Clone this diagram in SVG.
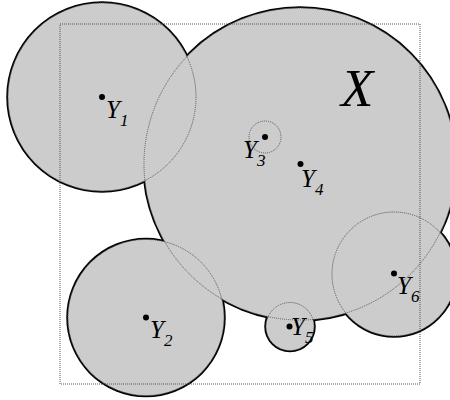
<svg xmlns="http://www.w3.org/2000/svg" width="450" height="400" viewBox="0 0 450 400">
<style>
.edge{fill:#000;stroke:#000;stroke-width:3.5}
.fill{fill:#cccccc;stroke:none}
.dot{fill:none;stroke:#555;stroke-width:1;stroke-dasharray:1 1}
.pt{fill:#000}
.lbl{font-family:"Liberation Serif",serif;font-style:italic;font-size:25px;fill:#000}
.sub{font-size:17px}
.big{font-family:"Liberation Serif",serif;font-style:italic;font-size:53px;fill:#000}
</style>
<rect width="450" height="400" fill="#fff"/>
<g id="union">
<g id="outline">
<circle class="edge" cx="300" cy="164" r="156"/>
<circle class="edge" cx="102" cy="97" r="94"/>
<circle class="edge" cx="146" cy="317.5" r="78"/>
<circle class="edge" cx="265" cy="137" r="16"/>
<circle class="edge" cx="290" cy="326.5" r="24"/>
<circle class="edge" cx="394" cy="274" r="62"/>
</g>
<g id="fills">
<circle class="fill" cx="300" cy="164" r="156"/>
<circle class="fill" cx="102" cy="97" r="94"/>
<circle class="fill" cx="146" cy="317.5" r="78"/>
<circle class="fill" cx="265" cy="137" r="16"/>
<circle class="fill" cx="290" cy="326.5" r="24"/>
<circle class="fill" cx="394" cy="274" r="62"/>
</g>
<g id="dotted">
<circle class="dot" cx="300" cy="164" r="156"/>
<circle class="dot" cx="102" cy="97" r="94"/>
<circle class="dot" cx="146" cy="317.5" r="78"/>
<circle class="dot" cx="265" cy="137" r="16"/>
<circle class="dot" cx="290" cy="326.5" r="24"/>
<circle class="dot" cx="394" cy="274" r="62"/>
</g>
</g>
<rect id="frame" x="60" y="24" width="360" height="360" fill="none" stroke="#555" stroke-width="1" stroke-dasharray="1 1"/>
<g id="X"><text class="big" x="341" y="106">X</text></g>
<g id="Y1"><circle class="pt" cx="102" cy="97" r="3"/><text class="lbl" x="106" y="118">Y<tspan class="sub" dy="8">1</tspan></text></g>
<g id="Y2"><circle class="pt" cx="146" cy="317.5" r="3"/><text class="lbl" x="150" y="338">Y<tspan class="sub" dy="8">2</tspan></text></g>
<g id="Y3"><circle class="pt" cx="265" cy="137" r="3"/><text class="lbl" x="243" y="158">Y<tspan class="sub" dy="8">3</tspan></text></g>
<g id="Y4"><circle class="pt" cx="300.5" cy="164" r="3"/><text class="lbl" x="301" y="187">Y<tspan class="sub" dy="8">4</tspan></text></g>
<g id="Y5"><circle class="pt" cx="289.5" cy="326.5" r="3"/><text class="lbl" x="291" y="335">Y<tspan class="sub" dy="8">5</tspan></text></g>
<g id="Y6"><circle class="pt" cx="394" cy="273.5" r="3"/><text class="lbl" x="397" y="294">Y<tspan class="sub" dy="8">6</tspan></text></g>
</svg>
